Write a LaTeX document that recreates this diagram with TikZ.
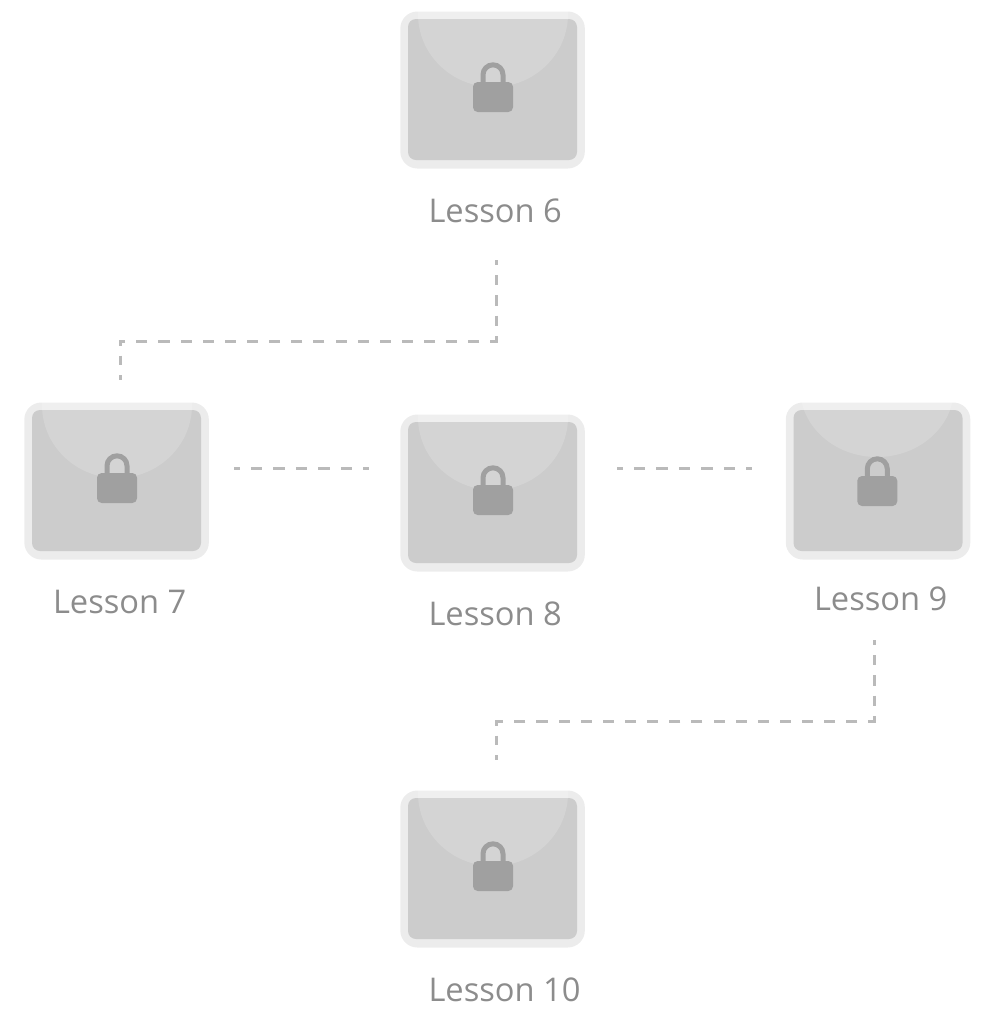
\documentclass[tikz,border=0pt]{standalone}
\usepackage{fontspec}
\setmainfont{Open Sans}
\definecolor{tileout}{HTML}{ECECEC}
\definecolor{tilein}{HTML}{CCCCCC}
\definecolor{lockgray}{HTML}{A0A0A0}
\definecolor{dashgray}{HTML}{BABABA}
\definecolor{labelgray}{HTML}{8C8C8C}
\tikzset{
  every picture/.style={line width=0.75pt},
  tilebox/.style={fill=tileout,rounded corners=12.75pt,minimum width=138.4pt,minimum height=117.75pt,inner sep=0pt,anchor=north west},
  lessonlabel/.style={text=labelgray,font=\fontsize{24.5}{28}\selectfont,inner sep=0pt,anchor=base west},
  dashbase/.style={draw=dashgray,line width=2.25pt},
  dashlong/.style={dashbase,dash pattern=on 8.3pt off 8.3pt,dash phase=3pt},
  dashshort/.style={dashbase,dash pattern=on 8.44pt off 8.44pt,dash phase=4.22pt},
  dashdrop/.style={dashbase,dash pattern=on 7.6pt off 7.6pt,dash phase=3.8pt},
  dashstub/.style={dashbase,dash pattern=on 7.3pt off 7.3pt,dash phase=3.65pt},
}
\begin{document}
\begin{tikzpicture}[x=0.75pt,y=0.75pt,yscale=-1,xscale=1]
\useasboundingbox (0,0) rectangle (995,1033);

%Tiles and labels
\foreach \n/\x/\y/\lx/\ly/\capx/\capy/\capw/\caph/\kx/\ky in {
  6/399.8/11/428/222/93.2/3/75/73/73.2/71,
  7/23.8/402/52.5/613/93.2/3/75/73/73.2/71,
  8/399.8/414/428/625/93.2/3/75/73/73.2/71,
  9/785.3/402/813.5/610/91.7/-14/77/69/72/74,
  10/399.8/790/428/1001/93.2/3/75/73/73.2/71}{
  \node[tilebox] (tile\n) at (\x,\y) {};
  \begin{scope}[shift={(\x,\y)}]
    \fill[tilein,rounded corners=6pt] (8.2,8) rectangle (177.2,149);
    \begin{scope}
      \clip[rounded corners=12.75pt] (0,0) rectangle (184.5,157);
      \fill[white,opacity=.17] (\capx,\capy) ellipse [x radius=\capw,y radius=\caph];
    \end{scope}
    %lock
    \begin{scope}[shift={(\kx,\ky)}]
      \draw[lockgray,line width=3.75pt] (10,3) -- (10,-7.2) arc[start angle=180,end angle=360,radius=10] -- (30,3);
      \fill[lockgray,rounded corners=3.5pt] (0,0) rectangle (40,30);
    \end{scope}
  \end{scope}
  \node[lessonlabel] (label\n) at (\lx,\ly) {Lesson \n};
}

%Connector ends
\coordinate (l6s) at (496,260);
\coordinate (j6) at (496,341);
\coordinate (j7) at (120,341);
\coordinate (l7n) at (120,380);
\coordinate (t7e) at (234,468);
\coordinate (t8w) at (369,468);
\coordinate (t8e) at (617,468);
\coordinate (t9w) at (752,468);
\coordinate (l9s) at (874,640);
\coordinate (j9) at (874,721);
\coordinate (j10) at (496,721);
\coordinate (l10n) at (496,760);

%Connectors
\draw[dashdrop] (l6s) -- (j6);
\draw[dashlong] ([xshift=1.125pt]j6) -- ([xshift=-1.125pt]j7);
\draw[dashstub] (j7) -- (l7n);
\draw[dashshort] (t7e) -- (t8w);
\draw[dashshort] (t8e) -- (t9w);
\draw[dashdrop] (l9s) -- (j9);
\draw[dashlong] ([xshift=1.125pt]j9) -- ([xshift=-1.125pt]j10);
\draw[dashstub] (j10) -- (l10n);

\end{tikzpicture}
\end{document}
